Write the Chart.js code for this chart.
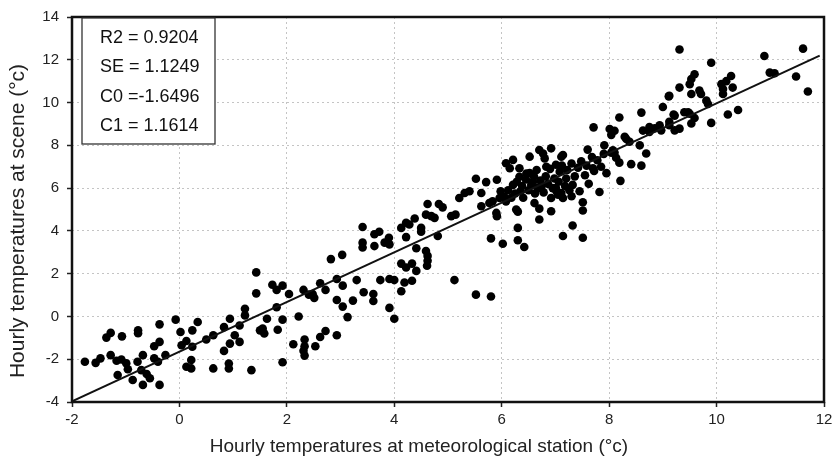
<!DOCTYPE html>
<html>
<head>
<meta charset="utf-8">
<script src="https://cdn.jsdelivr.net/npm/chart.js@4/dist/chart.umd.min.js"></script>
<style>
  html, body { margin: 0; padding: 0; background: #fff; }
  #chart { display: block; }
</style>
</head>
<body>
<canvas id="chart" width="838" height="464"></canvas>
<script>
// ---- data ----
// hourly temperatures at the meteorological station (x, °c)
const stationTemp = [
  // below 1.5
  -1.76, -1.56, -1.47, -1.36, -1.28, -1.07, -1.28, -1.17, -1.08, -1.15,
  -0.99, -0.96, -0.87, -0.78, -0.77, -0.77, -0.68, -0.71, -0.61, -0.55,
  -0.68, -0.47, -0.47, -0.37, -0.37, -0.37, -0.40, -0.26, -0.07, 0.02,
  0.04, 0.13, 0.24, 0.34, 0.24, 0.13, 0.22, 0.22, 0.50, 0.63,
  0.63, 0.83, 0.83, 0.92, 0.92, 0.94, 1.03, 0.94, 1.12, 1.12,
  1.22, 1.22, 1.34, 1.43, 1.43, 1.50,
  // 1.5 - 4.6
  1.55, 1.58, 1.63, 1.73, 1.81, 1.92, 2.04, 1.81, 1.92, 1.83,
  2.22, 2.12, 2.33, 2.33, 2.31, 2.33, 1.92, 2.53, 2.62, 2.72,
  2.93, 2.31, 2.41, 2.51, 2.62, 2.72, 2.82, 3.03, 2.93, 3.04,
  2.93, 3.04, 3.13, 3.23, 3.30, 3.41, 3.41, 3.41, 3.43, 3.61,
  3.61, 3.63, 3.63, 3.72, 3.74, 3.82, 3.90, 3.91, 3.91, 4.00,
  3.91, 4.00, 4.13, 4.19, 4.22, 4.13, 4.33, 4.41, 4.33, 4.13,
  4.22, 4.28, 4.38, 4.22, 4.41, 4.50, 4.50, 4.59, 4.59, 4.62,
  4.62, 4.61, 4.81, 2.48,
  // 4.6 - 6.0
  4.62, 4.83, 4.90, 4.69, 4.75, 5.06, 5.14, 5.12, 5.52, 5.80,
  5.80, 6.02, 5.21, 5.31, 5.40, 5.62, 5.52, 5.71, 5.91, 5.62,
  5.77, 5.91, 5.83, 5.96, 5.90,
  // dense band 6 - 8
  6.08, 6.21, 6.33, 6.15, 6.52, 6.70, 6.77, 6.92, 6.80, 7.01,
  7.11, 6.83, 6.52, 6.74, 6.61, 6.70, 6.70, 6.92, 6.92, 7.01,
  7.14, 7.11, 6.30, 6.30, 6.30, 6.42, 6.21, 6.33, 6.46, 6.58,
  6.67, 7.14, 7.08, 7.20, 7.32, 6.95, 7.05, 7.14, 7.30, 6.08,
  6.27,
  5.98, 6.05, 6.12, 6.18, 6.25, 6.28, 6.35, 6.38, 6.40, 6.45,
  6.50, 6.55, 6.60, 6.62, 6.65, 6.72, 6.78, 6.82, 6.86, 6.90,
  6.98, 7.02, 7.06, 7.12, 7.18, 7.22, 7.26, 7.30, 7.36, 7.42,
  7.45, 7.48, 7.55, 7.58, 7.62, 7.68, 7.72, 7.78, 7.85, 7.90,
  7.95, 7.60, 7.51, 7.51, 7.32, 7.51,
  // above 7.7
  7.71, 8.01, 8.10, 8.19, 8.60, 7.91, 8.29, 8.38, 8.41, 8.60,
  8.69, 8.57, 8.63, 8.75, 8.94, 9.12, 9.22, 8.10, 8.13, 8.19,
  8.04, 8.21, 7.82, 7.70, 8.04, 8.07, 8.32, 8.75, 8.85, 9.31,
  8.97, 9.00, 9.12, 9.22, 9.31, 9.31, 9.47, 9.53, 9.53, 9.50,
  9.53, 9.59, 9.68, 9.71, 9.81, 9.84, 9.90, 9.90, 10.09, 10.12,
  10.12, 10.18, 10.27, 10.30, 10.21, 10.40, 10.89, 10.99, 11.08, 11.48,
  11.61, 11.70, 9.20, 9.40, 9.50, 9.59, 9.11, 9.12
];

// hourly temperatures at the scene (y, °c), same order as stationTemp
const sceneTemp = [
  -2.12, -2.17, -1.96, -0.99, -0.77, -0.93, -1.81, -2.07, -2.01, -2.74,
  -2.19, -2.47, -2.97, -2.12, -0.65, -0.78, -1.81, -2.51, -2.69, -2.89,
  -3.20, -1.96, -1.39, -1.19, -0.37, -3.20, -2.12, -1.81, -0.15, -0.73,
  -1.35, -1.15, -0.65, -0.26, -1.42, -2.35, -2.43, -2.04, -1.08, -0.88,
  -2.43, -0.50, -1.61, -2.20, -2.43, -0.11, -0.88, -1.27, -1.19, -0.42,
  0.05, 0.36, -2.51, 2.06, 1.08, -0.65,
  -0.57, -0.80, -0.11, 1.48, 1.24, 1.44, 1.05, 0.43, -0.15, -0.62,
  0.00, -1.30, -1.08, -1.39, -1.60, -1.83, -2.14, -1.39, -0.96, -0.68,
  -0.88, 1.24, 1.02, 0.87, 1.55, 1.24, 2.68, 2.88, 1.75, 1.44,
  0.77, 0.46, -0.03, 0.74, 1.70, 4.18, 3.45, 3.22, 1.13, 1.05,
  0.72, 3.29, 3.84, 3.96, 1.70, 3.45, 3.68, 3.37, 1.75, 1.70,
  0.40, -0.11, 1.18, 1.59, 2.29, 2.47, 2.47, 2.13, 1.67, 4.14,
  4.38, 4.30, 4.58, 3.71, 3.19, 4.14, 3.96, 4.76, 3.06, 2.83,
  2.60, 2.37, 3.76, 1.05,
  5.26, 5.26, 5.10, 4.69, 4.61, 4.69, 4.76, 1.70, 1.02, 0.93,
  3.65, 3.40, 5.54, 5.77, 5.85, 5.77, 6.44, 6.28, 6.39, 5.15,
  5.30, 4.69, 5.38, 5.54, 4.84,
  7.16, 7.32, 6.93, 6.93, 7.47, 7.78, 7.62, 7.86, 7.39, 7.09,
  7.47, 7.00, 6.70, 6.08, 5.30, 5.04, 4.53, 4.92, 5.54, 6.00,
  3.76, 5.77, 4.90, 4.14, 3.56, 3.25, 6.15, 6.53, 6.68, 6.29,
  6.00, 7.55, 6.77, 6.45, 6.15, 6.00, 5.69, 5.54, 5.62, 5.38,
  5.00,
  5.85, 5.60, 5.90, 5.55, 5.75, 6.30, 5.85, 6.10, 5.55, 6.40,
  5.90, 6.15, 6.55, 5.75, 6.85, 6.35, 5.80, 6.55, 6.20, 6.90,
  6.45, 5.85, 6.30, 7.05, 6.10, 6.85, 5.90, 7.15, 6.55, 6.95,
  5.85, 7.25, 6.60, 7.05, 6.20, 7.45, 6.80, 7.30, 7.00, 7.60,
  6.70, 7.80, 5.34, 4.95, 4.25, 3.68,
  8.84, 8.76, 8.68, 9.30, 9.53, 8.00, 8.40, 8.17, 7.12, 7.05,
  7.62, 8.00, 8.69, 8.86, 8.94, 9.10, 8.70, 7.66, 7.42, 7.19,
  7.66, 6.34, 5.82, 6.93, 8.49, 7.77, 8.30, 8.63, 8.80, 8.78,
  8.70, 9.79, 10.32, 9.39, 10.70, 12.48, 9.55, 9.02, 10.40, 10.86,
  11.10, 11.32, 10.56, 10.40, 10.09, 9.93, 11.86, 9.05, 10.86, 10.63,
  10.40, 11.00, 11.24, 10.70, 9.44, 9.65, 12.18, 11.40, 11.37, 11.22,
  12.52, 10.52, 9.44, 9.55, 9.48, 9.28, 10.29, 8.94
];

// fitted line (C0 = -1.6496, C1 = 1.1614) drawn between these station temperatures
const fitX = [-2, 11.92];
const fitY = [-3.97, 12.19];

const statsLines = ['R2 = 0.9204', 'SE = 1.1249', 'C0 =-1.6496', 'C1 = 1.1614'];

const xTitle = 'Hourly temperatures at meteorological station (\u00B0c)';
const yTitle = 'Hourly temperatures at scene (\u00B0c)';

const FONT = '"Liberation Sans", Arial, sans-serif';

const points = stationTemp.map((x, i) => ({ x: x, y: sceneTemp[i] }));
const fitLine = fitX.map((x, i) => ({ x: x, y: fitY[i] }));

// frame around the plot, the statistics box and the two axis titles
const framePlugin = {
  id: 'frame',
  afterDraw(chart) {
    const { ctx, chartArea: a } = chart;
    ctx.save();
    ctx.strokeStyle = '#111';
    ctx.lineWidth = 2.5;
    ctx.strokeRect(a.left, a.top, a.right - a.left, a.bottom - a.top);

    // stats box
    ctx.fillStyle = '#fff';
    ctx.fillRect(82, 18, 133, 126);
    ctx.strokeStyle = '#333';
    ctx.lineWidth = 1.3;
    ctx.strokeRect(82, 18, 133, 126);
    ctx.fillStyle = '#111';
    ctx.font = '18px ' + FONT;
    ctx.textAlign = 'left';
    ctx.textBaseline = 'middle';
    const rows = [38, 67, 97, 126];
    statsLines.forEach((t, i) => ctx.fillText(t, 100, rows[i]));

    // axis titles (the reference centres them on the page, not on the plot)
    ctx.fillStyle = '#222';
    ctx.textAlign = 'center';
    ctx.font = '19px ' + FONT;
    ctx.fillText(xTitle, 419, 447);
    ctx.translate(18, 221);
    ctx.rotate(-Math.PI / 2);
    ctx.font = '21px ' + FONT;
    ctx.fillText(yTitle, 0, 0);
    ctx.restore();
  }
};

const ctx = document.getElementById('chart').getContext('2d');
new Chart(ctx, {
  type: 'scatter',
  data: {
    datasets: [
      {
        type: 'line',
        data: fitLine,
        borderColor: '#111',
        borderWidth: 2,
        pointRadius: 0,
        fill: false
      },
      {
        data: points,
        backgroundColor: '#000',
        borderWidth: 0,
        pointRadius: 4.3
      }
    ]
  },
  options: {
    responsive: false,
    animation: false,
    layout: { padding: { top: 14, right: 14, left: 0, bottom: 0 } },
    plugins: {
      legend: { display: false },
      tooltip: { enabled: false }
    },
    scales: {
      x: {
        type: 'linear',
        min: -2,
        max: 12,
        ticks: { stepSize: 2, color: '#222', font: { family: FONT, size: 15 }, padding: 4 },
        grid: { color: '#c4c4c4', lineWidth: 1, tickColor: '#222', tickLength: 5, tickWidth: 1.5 },
        border: { display: false, dash: [2, 3] },
        afterFit(s) { s.height = 62; }
      },
      y: {
        type: 'linear',
        min: -4,
        max: 14,
        ticks: { stepSize: 2, color: '#222', font: { family: FONT, size: 15 }, padding: 8 },
        grid: { color: '#c4c4c4', lineWidth: 1, tickColor: '#222', tickLength: 5, tickWidth: 1.5 },
        border: { display: false, dash: [2, 3] },
        afterFit(s) { s.width = 72; }
      }
    }
  },
  plugins: [framePlugin]
});
</script>
</body>
</html>
